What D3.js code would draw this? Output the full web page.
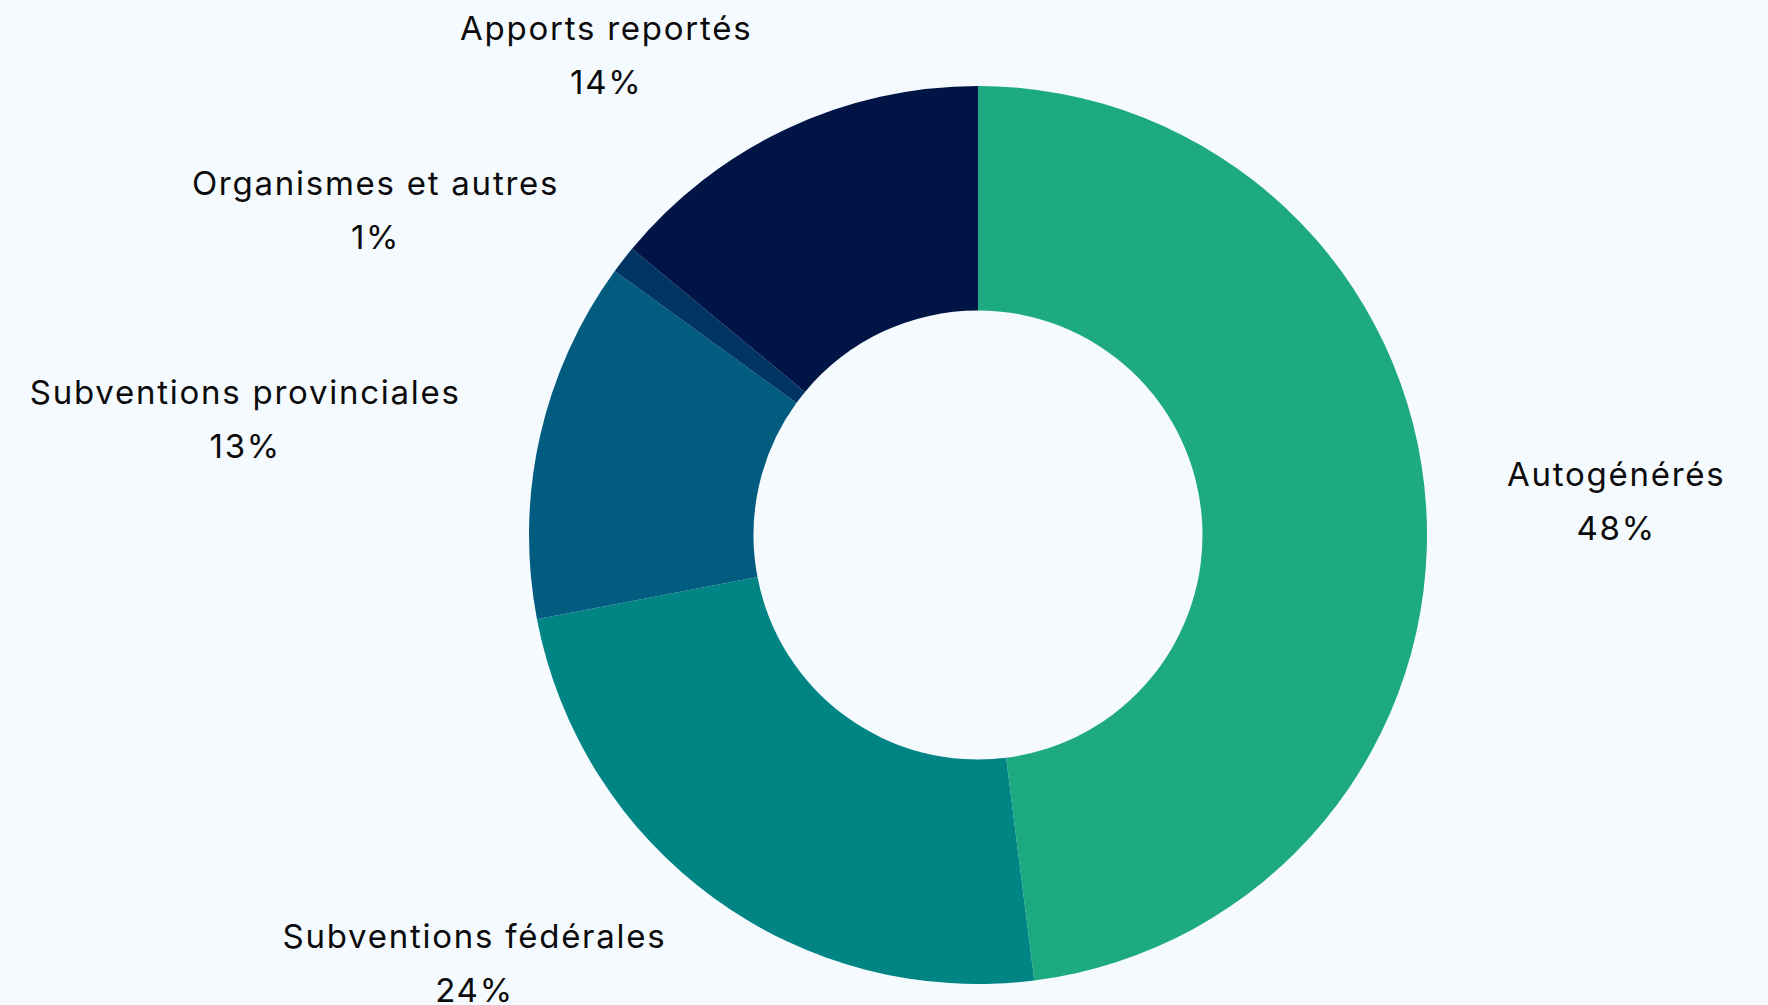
<!DOCTYPE html>
<html>
<head>
<meta charset="utf-8">
<script src="https://cdn.jsdelivr.net/npm/d3@7"></script>
<style>
  html, body { margin: 0; padding: 0; background: #f5faff; }
  svg { display: block; }
  text { font-family: "Inter", sans-serif; fill: #0b0b0b; letter-spacing: 1.75px; }
</style>
</head>
<body>
<script>
var width = 1768,
    height = 1005;

// sources de financement
var categories = ["Autogénérés", "Subventions fédérales", "Subventions provinciales", "Organismes et autres", "Apports reportés"];
var values = [48, 24, 13, 1, 14];
var colors = ["#1eaa80", "#008584", "#015c80", "#003463", "#011446"];

var cx = 978, cy = 535,
    outerR = 449, innerR = 224.5,
    labelR = 530,
    fontSize = 33,
    lineGap = 54;

var svg = d3.select("body").append("svg")
            .attr("width", width)
            .attr("height", height);

var data = categories.map(function(c, i){ return {name: c, value: values[i], color: colors[i]}; });

var pie = d3.pie()
            .sort(null)
            .value(function(d){ return d.value; });

var arc = d3.arc()
            .innerRadius(innerR)
            .outerRadius(outerR);

var g = svg.append("g")
           .attr("transform", "translate(" + cx + "," + cy + ")");

var arcs = pie(data);

g.selectAll("path")
 .data(arcs)
 .enter()
 .append("path")
 .attr("d", arc)
 .attr("fill", function(d){ return d.data.color; });

// étiquettes
var labels = g.selectAll("g.lbl")
              .data(arcs)
              .enter()
              .append("g")
              .attr("class", "lbl");

labels.each(function(d){
  var sel = d3.select(this);
  var a = (d.startAngle + d.endAngle) / 2;
  var px = Math.sin(a) * labelR,
      py = -Math.cos(a) * labelR;
  var t1 = sel.append("text")
              .attr("font-size", fontSize)
              .attr("text-anchor", "middle")
              .text(d.data.name);
  var t2 = sel.append("text")
              .attr("font-size", fontSize)
              .attr("text-anchor", "middle")
              .text(Math.round(d.data.value) + "%");
  var w = Math.max(t1.node().getComputedTextLength(), t2.node().getComputedTextLength());
  var mx = Math.sin(a) >= 0 ? px + w / 2 : px - w / 2;
  var base1 = py - lineGap / 2 + fontSize * 0.35;
  t1.attr("x", mx).attr("y", base1);
  t2.attr("x", mx).attr("y", base1 + lineGap);
});
</script>
</body>
</html>
